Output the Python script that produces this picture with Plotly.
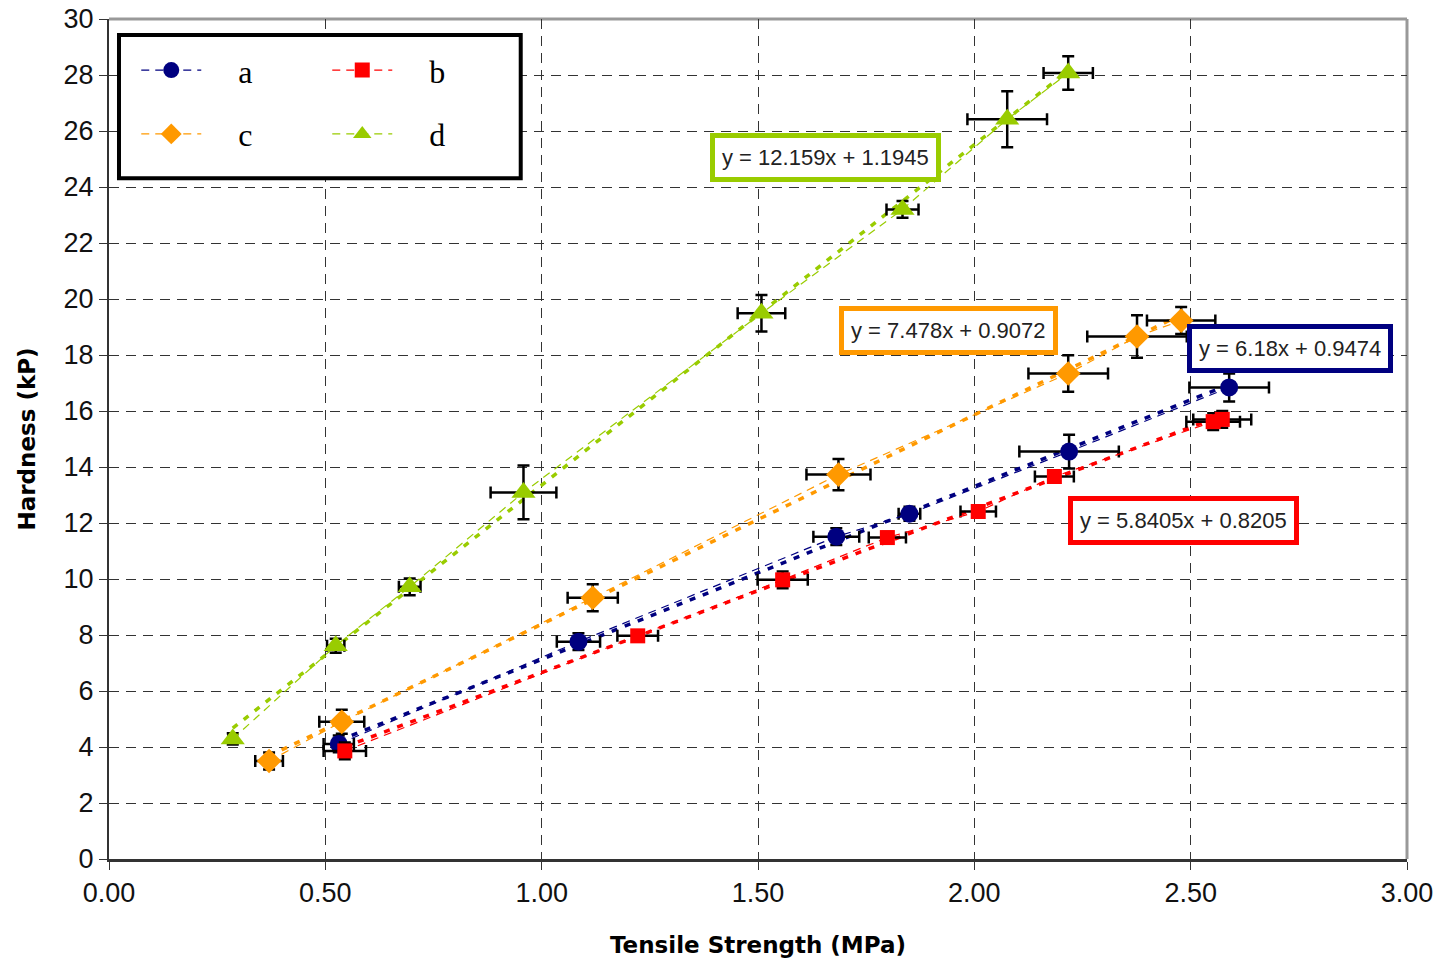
import plotly.graph_objects as go

# ---- data ----
a_x = [0.531, 1.085, 1.681, 1.850, 2.219, 2.589]
a_y = [4.11, 7.76, 11.51, 12.33, 14.55, 16.84]
a_ex = [0.035, 0.050, 0.053, 0.025, 0.115, 0.092]
a_ey = [0.30, 0.30, 0.30, 0.25, 0.60, 0.50]

b_x = [0.545, 1.222, 1.557, 1.799, 2.009, 2.185, 2.552, 2.573]
b_y = [3.86, 7.97, 9.97, 11.48, 12.41, 13.66, 15.62, 15.70]
b_ex = [0.049, 0.047, 0.058, 0.043, 0.041, 0.045, 0.062, 0.067]
b_ey = [0.30, 0.20, 0.30, 0.20, 0.20, 0.20, 0.30, 0.30]

c_x = [0.370, 0.538, 1.118, 1.686, 2.217, 2.376, 2.478]
c_y = [3.50, 4.90, 9.33, 13.73, 17.34, 18.66, 19.23]
c_ex = [0.032, 0.052, 0.058, 0.074, 0.092, 0.115, 0.079]
c_ey = [0.30, 0.43, 0.48, 0.56, 0.65, 0.76, 0.48]

d_x = [0.286, 0.524, 0.695, 0.958, 1.508, 1.834, 2.076, 2.217]
d_y = [4.29, 7.62, 9.72, 13.09, 19.49, 23.20, 26.42, 28.07]
d_ex = [0.010, 0.020, 0.025, 0.076, 0.055, 0.037, 0.092, 0.057]
d_ey = [0.20, 0.25, 0.30, 0.96, 0.65, 0.30, 1.00, 0.60]

names = ["a", "b", "c", "d"]
slopes = [6.18, 5.8405, 7.478, 12.159]
intercepts = [0.9474, 0.8205, 0.9072, 1.1945]
eq_labels = ["y = 6.18x + 0.9474", "y = 5.8405x + 0.8205",
             "y = 7.478x + 0.9072", "y = 12.159x + 1.1945"]
eq_pos = [(2.729, 18.22), (2.483, 12.08), (1.940, 18.88), (1.656, 25.06)]

x_ticks = [0.0, 0.5, 1.0, 1.5, 2.0, 2.5, 3.0]
x_ticklabels = ["0.00", "0.50", "1.00", "1.50", "2.00", "2.50", "3.00"]
y_ticks = list(range(0, 31, 2))

# ---- styles ----
colors = ["#000080", "#FF0000", "#FF9900", "#99CC00"]
symbols = ["circle", "square", "diamond", "triangle-up"]
msizes = [18, 15, 19, 21]
legend_ids = ["legend", "legend", "legend2", "legend2"]

series = [(a_x, a_y, a_ex, a_ey), (b_x, b_y, b_ex, b_ey),
          (c_x, c_y, c_ex, c_ey), (d_x, d_y, d_ex, d_ey)]

fig = go.Figure()

# trendlines (thick dashed)
for i, (xs, ys, ex, ey) in enumerate(series):
    x0, x1 = min(xs), max(xs)
    fig.add_trace(go.Scatter(
        x=[x0, x1], y=[slopes[i] * x0 + intercepts[i], slopes[i] * x1 + intercepts[i]],
        mode="lines", line=dict(color=colors[i], width=3.5, dash="6px,8px"),
        showlegend=False, hoverinfo="skip"))

# series with thin dashed connecting lines, markers, error bars
for i, (xs, ys, ex, ey) in enumerate(series):
    fig.add_trace(go.Scatter(
        x=xs, y=ys, name="\u00a0\u00a0\u00a0\u00a0" + names[i], mode="lines+markers",
        line=dict(color=colors[i], width=1.2, dash="8px,6px"),
        marker=dict(color=colors[i], symbol=symbols[i], size=msizes[i], line=dict(width=0)),
        error_x=dict(type="data", array=ex, color="black", thickness=2.5, width=6),
        error_y=dict(type="data", array=ey, color="black", thickness=2.5, width=6),
        legend=legend_ids[i]))

# equation boxes
for i in range(4):
    fig.add_annotation(
        x=eq_pos[i][0], y=eq_pos[i][1], xref="x", yref="y", text=eq_labels[i],
        showarrow=False, font=dict(family="Liberation Sans, Arial", size=22, color="#222222"),
        bgcolor="white", bordercolor=colors[i], borderwidth=5, borderpad=7)

# legend frame
fig.add_shape(type="rect", xref="paper", yref="paper",
              x0=0.0077, x1=0.3172, y0=0.8105, y1=0.981,
              line=dict(color="black", width=4), fillcolor="white", layer="above")

legend_common = dict(orientation="h", xanchor="left", yanchor="middle",
                     bgcolor="rgba(0,0,0,0)", borderwidth=0,
                     font=dict(family="Liberation Serif, DejaVu Serif, serif", size=32, color="black"),
                     entrywidth=116, entrywidthmode="pixels", itemwidth=60)

fig.update_layout(
    width=1439, height=962,
    margin=dict(l=109, r=32, t=19, b=103),
    paper_bgcolor="white", plot_bgcolor="white",
    showlegend=True,
    legend=dict(x=0.021, y=0.939, **legend_common),
    legend2=dict(x=0.021, y=0.863, **legend_common),
    xaxis=dict(range=[0, 3], tickvals=x_ticks, ticktext=x_ticklabels, automargin=False,
               showgrid=True, gridcolor="#333333", griddash="10px,7px", gridwidth=1.3,
               showline=True, linecolor="#333333", linewidth=2.5, mirror=False,
               ticks="outside", ticklen=8, tickcolor="#333333", tickwidth=1.3,
               tickfont=dict(family="Liberation Sans, Arial", size=27, color="#111111"),
               title=dict(text="<b>Tensile Strength (MPa)</b>", standoff=30,
                          font=dict(family="DejaVu Sans", size=23, color="black")),
               zeroline=False),
    yaxis=dict(range=[0, 30], tickvals=y_ticks, automargin=False,
               showgrid=True, gridcolor="#333333", griddash="10px,7px", gridwidth=1.3,
               showline=True, linecolor="#333333", linewidth=2, mirror=False,
               ticks="outside", ticklen=8, tickcolor="#333333", tickwidth=1.3,
               tickfont=dict(family="Liberation Sans, Arial", size=27, color="#111111"),
               title=dict(text="<b>Hardness (kP)</b>", standoff=22,
                          font=dict(family="DejaVu Sans", size=23, color="black")),
               zeroline=False),
)

# gray top/right plot border
fig.add_shape(type="line", xref="paper", yref="paper", x0=0, x1=1, y0=1, y1=1,
              line=dict(color="#999999", width=3), layer="below")
fig.add_shape(type="line", xref="paper", yref="paper", x0=1, x1=1, y0=0, y1=1,
              line=dict(color="#999999", width=3), layer="below")

fig.write_html("out.html")
